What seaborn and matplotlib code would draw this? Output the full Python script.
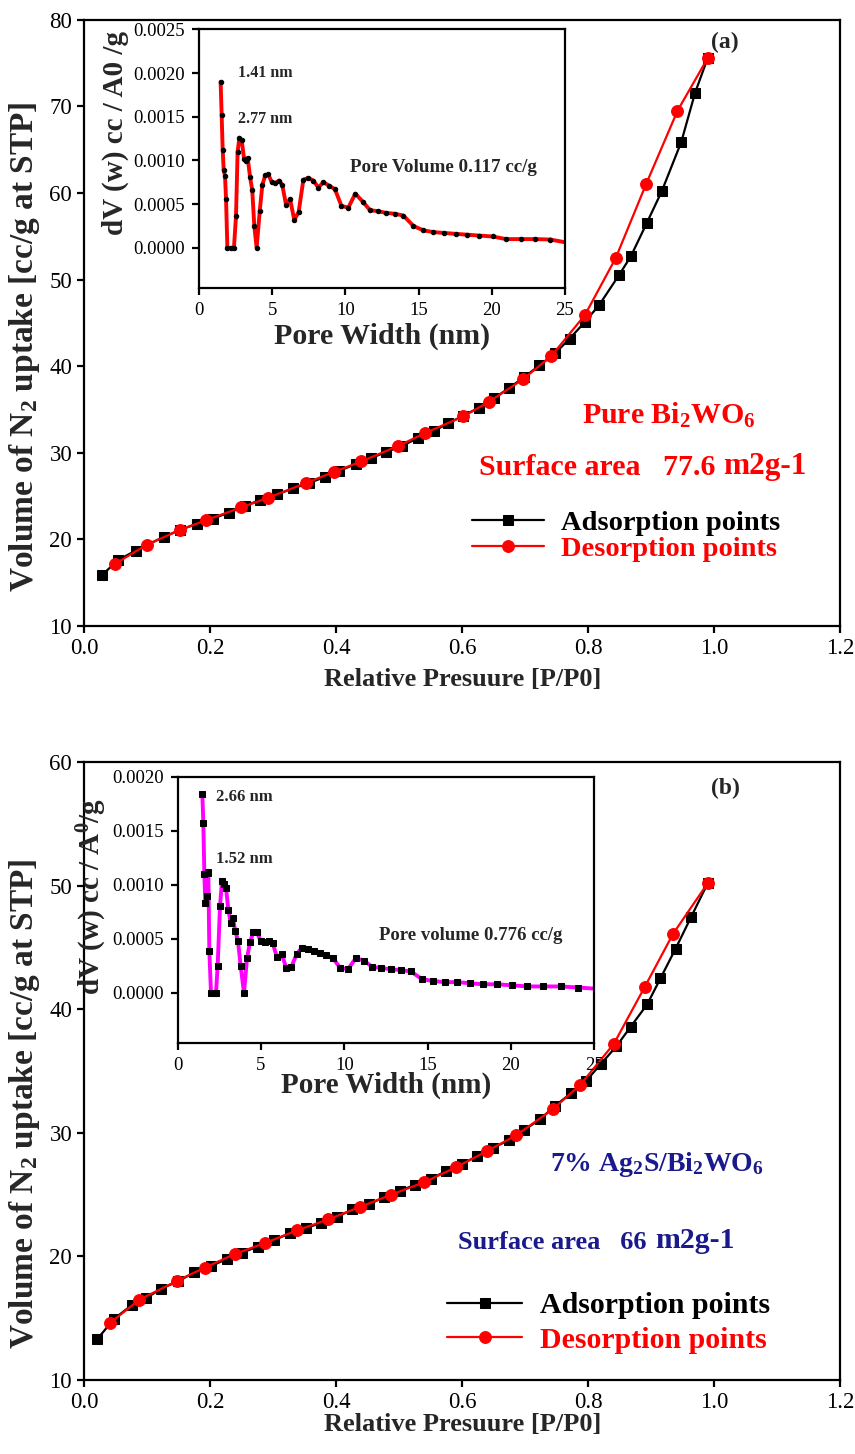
import numpy as np
import pandas as pd
import matplotlib
matplotlib.use("Agg")
import matplotlib.pyplot as plt
import seaborn as sns

# ---------------- data ----------------
# Panel (a) Pure Bi2WO6 isotherm
a_ads_x = [0.029, 0.054, 0.082, 0.127, 0.153, 0.179, 0.205, 0.230, 0.255, 0.280, 0.307, 0.332, 0.357,
           0.382, 0.405, 0.431, 0.456, 0.480, 0.505, 0.530, 0.555, 0.578, 0.602, 0.627, 0.651,
           0.675, 0.698, 0.723, 0.748, 0.771, 0.795, 0.818, 0.849, 0.868, 0.893, 0.917, 0.948,
           0.970, 0.990]
a_ads_y = [15.9, 17.6, 18.7, 20.3, 21.1, 21.8, 22.4, 23.1, 23.8, 24.6, 25.2, 25.9, 26.5,
           27.2, 27.9, 28.7, 29.4, 30.1, 30.8, 31.7, 32.5, 33.4, 34.3, 35.2, 36.3,
           37.5, 38.7, 40.1, 41.5, 43.2, 45.1, 47.1, 50.5, 52.7, 56.5, 60.2, 65.9,
           71.6, 75.6]
a_des_x = [0.990, 0.942, 0.892, 0.844, 0.795, 0.742, 0.697, 0.643, 0.602, 0.542, 0.499, 0.440,
           0.397, 0.352, 0.292, 0.250, 0.193, 0.153, 0.100, 0.050]
a_des_y = [75.6, 69.5, 61.0, 52.5, 45.9, 41.2, 38.5, 35.9, 34.2, 32.3, 30.8, 29.0,
           27.8, 26.5, 24.8, 23.7, 22.2, 21.1, 19.4, 17.2]

# Panel (a) inset pore size distribution
a_pw = [1.48, 1.55, 1.62, 1.69, 1.78, 1.85, 1.94, 2.16, 2.39, 2.53, 2.64, 2.76, 2.92, 3.08,
        3.19, 3.33, 3.49, 3.64, 3.78, 3.94, 4.15, 4.33, 4.53, 4.74, 4.97, 5.19, 5.47, 5.69,
        5.95, 6.22, 6.51, 6.81, 7.13, 7.47, 7.81, 8.15, 8.50, 8.91, 9.29, 9.73, 10.2, 10.68,
        11.18, 11.69, 12.23, 12.78, 13.37, 13.96, 14.65, 15.33, 16.01, 16.77, 17.54, 18.34,
        19.16, 20.05, 20.98, 21.98, 22.96, 24.0]
a_dv = [0.00190, 0.00152, 0.00112, 0.00089, 0.00082, 0.00056, 0.0, 0.0, 0.0, 0.00036,
        0.00110, 0.00126, 0.00123, 0.00102, 0.00099, 0.00103, 0.00081, 0.00066, 0.00025, 0.0,
        0.00042, 0.00072, 0.00083, 0.00084, 0.00075, 0.00074, 0.00077, 0.00072, 0.00049,
        0.00056, 0.00032, 0.00041, 0.00078, 0.00080, 0.00077, 0.00069, 0.00075, 0.00071,
        0.00067, 0.00048, 0.00046, 0.00062, 0.00053, 0.00043, 0.00042, 0.00040, 0.00039,
        0.00037, 0.00025, 0.00020, 0.00018, 0.00017, 0.00016, 0.00015, 0.00014, 0.00013,
        0.00010, 0.00010, 0.00010, 0.000095]
a_pw_end = [24.0, 25.0]
a_dv_end = [0.000095, 0.000064]

# Panel (b) 7% Ag2S/Bi2WO6 isotherm
b_ads_x = [0.021, 0.048, 0.077, 0.098, 0.123, 0.150, 0.175, 0.201, 0.227, 0.251, 0.276, 0.302,
           0.327, 0.352, 0.377, 0.402, 0.426, 0.452, 0.476, 0.501, 0.526, 0.551, 0.575, 0.600,
           0.624, 0.649, 0.675, 0.698, 0.724, 0.748, 0.773, 0.797, 0.821, 0.845, 0.868, 0.894,
           0.915, 0.939, 0.964, 0.990]
b_ads_y = [13.3, 14.96, 16.1, 16.6, 17.4, 18.0, 18.7, 19.2, 19.8, 20.3, 20.8, 21.3,
           21.9, 22.3, 22.7, 23.2, 23.8, 24.2, 24.8, 25.3, 25.8, 26.3, 26.9, 27.5,
           28.1, 28.8, 29.4, 30.2, 31.1, 32.2, 33.2, 34.2, 35.6, 37.0, 38.6, 40.4,
           42.5, 44.9, 47.5, 50.2]
b_des_x = [0.990, 0.935, 0.890, 0.841, 0.788, 0.744, 0.686, 0.639, 0.590, 0.540, 0.488, 0.438,
           0.388, 0.338, 0.288, 0.240, 0.192, 0.147, 0.088, 0.041]
b_des_y = [50.2, 46.1, 41.8, 37.2, 33.9, 31.9, 29.8, 28.5, 27.2, 26.0, 25.0, 24.0,
           23.0, 22.1, 21.1, 20.2, 19.1, 18.0, 16.5, 14.6]

# Panel (b) inset pore size distribution
b_pw = [1.48, 1.54, 1.60, 1.66, 1.74, 1.80, 1.84, 1.90, 2.00, 2.16, 2.30, 2.40, 2.54, 2.66,
        2.78, 2.90, 3.04, 3.18, 3.32, 3.46, 3.62, 3.78, 3.98, 4.16, 4.34, 4.54, 4.76, 4.98,
        5.22, 5.46, 5.70, 5.96, 6.24, 6.52, 6.82, 7.14, 7.46, 7.80, 8.16, 8.52, 8.92, 9.32,
        9.76, 10.22, 10.68, 11.18, 11.68, 12.22, 12.80, 13.40, 13.98, 14.64, 15.30, 16.04,
        16.78, 17.54, 18.34, 19.18, 20.08, 20.98, 21.94, 22.98, 24.04]
b_dv = [0.00184, 0.00157, 0.00110, 0.00083, 0.00090, 0.00111, 0.00112, 0.00039, 0.0, 0.0,
        0.0, 0.00025, 0.00080, 0.00104, 0.00101, 0.00097, 0.00077, 0.00065, 0.00069, 0.00057,
        0.00048, 0.00025, 0.0, 0.00032, 0.00047, 0.00056, 0.00056, 0.00048, 0.00047, 0.00048,
        0.00046, 0.00033, 0.00036, 0.00023, 0.00024, 0.00036, 0.00042, 0.00041, 0.00039,
        0.00037, 0.00035, 0.00032, 0.00023, 0.00022, 0.00032, 0.00030, 0.00024, 0.00023,
        0.00022, 0.00021, 0.00020, 0.00013, 0.00011, 0.00010, 0.00010, 0.00009, 0.00008,
        0.00008, 0.00007, 0.00006, 0.00006, 0.00006, 0.00005]
b_pw_end = [24.04, 25.0]
b_dv_end = [0.00005, 0.00004]

x_ticks = [0.0, 0.2, 0.4, 0.6, 0.8, 1.0, 1.2]
a_y_ticks = [10, 20, 30, 40, 50, 60, 70, 80]
b_y_ticks = [10, 20, 30, 40, 50, 60]
a_in_yticks = [0.0, 0.0005, 0.0010, 0.0015, 0.0020, 0.0025]
b_in_yticks = [0.0, 0.0005, 0.0010, 0.0015, 0.0020]
in_xticks = [0, 5, 10, 15, 20, 25]

# ---------------- style ----------------
sns.set_theme(style="ticks")
plt.rcParams['font.family'] = ['Liberation Serif', 'DejaVu Serif']
plt.rcParams['mathtext.fontset'] = 'custom'
plt.rcParams['mathtext.rm'] = 'Liberation Serif'
plt.rcParams['mathtext.bf'] = 'Liberation Serif:bold'
plt.rcParams['mathtext.it'] = 'Liberation Serif:italic'

fig = plt.figure(figsize=(8.55, 14.54), dpi=100)

def style_axes(ax, lw=1.6, labsize=16.5, ticklen=5, pad=3.5):
    for s in ax.spines.values():
        s.set_linewidth(lw)
        s.set_color('black')
        s.set_visible(True)
    ax.tick_params(direction='out', length=ticklen, width=lw, colors='black',
                   labelsize=labsize, top=False, right=False, pad=pad)
    ax.grid(False)
    ax.set_facecolor('white')

def main_panel(rect, ads_x, ads_y, des_x, des_y, ylim, yticks, xlab_y, ylab_y):
    ax = fig.add_axes(rect)
    sns.lineplot(x=ads_x, y=ads_y, ax=ax, color='black', marker='s', markersize=7,
                 markeredgecolor='black', linewidth=1.6, sort=False, estimator=None,
                 label='Adsorption points')
    sns.lineplot(x=des_x, y=des_y, ax=ax, color='red', marker='o', markersize=8.5,
                 markeredgecolor='red', linewidth=1.6, sort=False, estimator=None,
                 label='Desorption points')
    ax.set_xlim(0, 1.2)
    ax.set_ylim(*ylim)
    ax.set_xticks(x_ticks)
    ax.set_xticklabels([f"{t:.1f}" for t in x_ticks])
    ax.set_yticks(yticks)
    style_axes(ax)
    ax.set_xlabel("Relative Presuure [P/P0]", fontsize=19, fontweight='bold', va='center')
    ax.set_ylabel(r"Volume of N$_\mathbf{2}$ uptake [cc/g at STP]", fontsize=24,
                  fontweight='bold', va='center')
    ax.xaxis.set_label_coords(0.501, xlab_y)
    ax.yaxis.set_label_coords(-0.078, ylab_y)
    return ax

def inset_panel(rect, pw, dv, pw_end, dv_end, ylim, yticks, color, marker, msize, ylabel,
                xlab_y, ylab_x, ylab_y, xlab_size):
    ax = fig.add_axes(rect)
    sns.lineplot(x=pw_end, y=dv_end, ax=ax, color=color, linewidth=2.8, sort=False,
                 estimator=None)
    sns.lineplot(x=pw, y=dv, ax=ax, color=color, linewidth=2.8, sort=False, estimator=None,
                 marker=marker, markersize=msize, markerfacecolor='black',
                 markeredgecolor='black')
    ax.set_xlim(0, 25)
    ax.set_ylim(*ylim)
    ax.set_xticks(in_xticks)
    ax.set_yticks(yticks)
    ax.set_yticklabels([f"{t:.4f}" for t in yticks])
    style_axes(ax, lw=1.6, labsize=13.5, ticklen=5, pad=5)
    ax.set_xlabel("Pore Width (nm)", fontsize=xlab_size, fontweight='bold', va='center')
    ax.set_ylabel(ylabel, fontsize=21, fontweight='bold', va='center')
    ax.xaxis.set_label_coords(0.5, xlab_y)
    ax.yaxis.set_label_coords(ylab_x, ylab_y)
    return ax

def surface_text(ax, x, y, main, unit, color, size_main, size_unit):
    t1 = ax.text(x, y, main, transform=ax.transAxes, fontsize=size_main,
                 fontweight='bold', color=color, ha='left', va='center')
    ax.annotate(unit, xy=(1, 0), xycoords=t1, xytext=(6, 0), textcoords='offset points',
                fontsize=size_unit, fontweight='bold', color=color, ha='left', va='bottom')

def color_legend(ax, anchor, spacing, size):
    leg = ax.legend(loc='center left', bbox_to_anchor=anchor, frameon=False,
                    handlelength=2.5, handletextpad=0.6, labelspacing=spacing, borderpad=0,
                    prop={'size': size, 'weight': 'bold'})
    for t, c in zip(leg.get_texts(), ['black', 'red']):
        t.set_color(c)
    return leg

# ---------------- panel (a) ----------------
ax1 = main_panel([0.0982, 0.5695, 0.8843, 0.4168], a_ads_x, a_ads_y, a_des_x, a_des_y,
                 (10, 80), a_y_ticks, -0.089, 0.46)
color_legend(ax1, (0.495, 0.148), 0.0, 20.5)
ax1.text(0.848, 0.962, "(a)", transform=ax1.transAxes, fontsize=17, fontweight='bold',
         ha='center', va='center')
ax1.text(0.774, 0.348, r"Pure Bi$_\mathbf{2}$WO$_\mathbf{6}$", transform=ax1.transAxes,
         fontsize=21.5, fontweight='bold', color='red', ha='center', va='center')
surface_text(ax1, 0.522, 0.262, "Surface area   77.6", "m2g-1", 'red', 21.5, 22.5)

in1 = inset_panel([0.2327, 0.8019, 0.4281, 0.1779], a_pw, a_dv, a_pw_end, a_dv_end,
                  (-0.00046, 0.0025), a_in_yticks, 'red', 'o', 3.2,
                  "dV (w) cc / A0 /g", -0.185, -0.228, 0.60, 21.5)
in1.text(2.7, 0.00200, "1.41 nm", fontsize=11.5, fontweight='bold', ha='left', va='center')
in1.text(2.7, 0.00148, "2.77 nm", fontsize=11.5, fontweight='bold', ha='left', va='center')
in1.text(10.3, 0.00092, "Pore Volume 0.117 cc/g", fontsize=13.7, fontweight='bold',
         ha='left', va='center')

# ---------------- panel (b) ----------------
ax2 = main_panel([0.0982, 0.0509, 0.8843, 0.4250], b_ads_x, b_ads_y, b_des_x, b_des_y,
                 (10, 60), b_y_ticks, -0.0728, 0.447)
color_legend(ax2, (0.461, 0.092), 0.25, 21.5)
ax2.text(0.848, 0.957, "(b)", transform=ax2.transAxes, fontsize=17, fontweight='bold',
         ha='center', va='center')
navy = '#1a1a8c'
ax2.text(0.758, 0.348, r"7% Ag$_\mathbf{2}$S/Bi$_\mathbf{2}$WO$_\mathbf{6}$",
         transform=ax2.transAxes, fontsize=20, fontweight='bold', color=navy,
         ha='center', va='center')
surface_text(ax2, 0.495, 0.223, "Surface area   66", "m2g-1", navy, 19, 21.5)

in2 = inset_panel([0.2078, 0.2829, 0.4873, 0.1829], b_pw, b_dv, b_pw_end, b_dv_end,
                  (-0.00046, 0.0020), b_in_yticks, '#ff00ff', 's', 4.5,
                  r"dV (w) cc / A$^\mathbf{0}$/g", -0.159, -0.205, 0.55, 21)
in2.text(2.3, 0.00181, "2.66 nm", fontsize=12, fontweight='bold', ha='left', va='center')
in2.text(2.3, 0.00124, "1.52 nm", fontsize=12, fontweight='bold', ha='left', va='center')
in2.text(12.1, 0.00053, "Pore volume 0.776 cc/g", fontsize=13.5, fontweight='bold',
         ha='left', va='center')

fig.savefig("out.png", dpi=100, facecolor='white')
